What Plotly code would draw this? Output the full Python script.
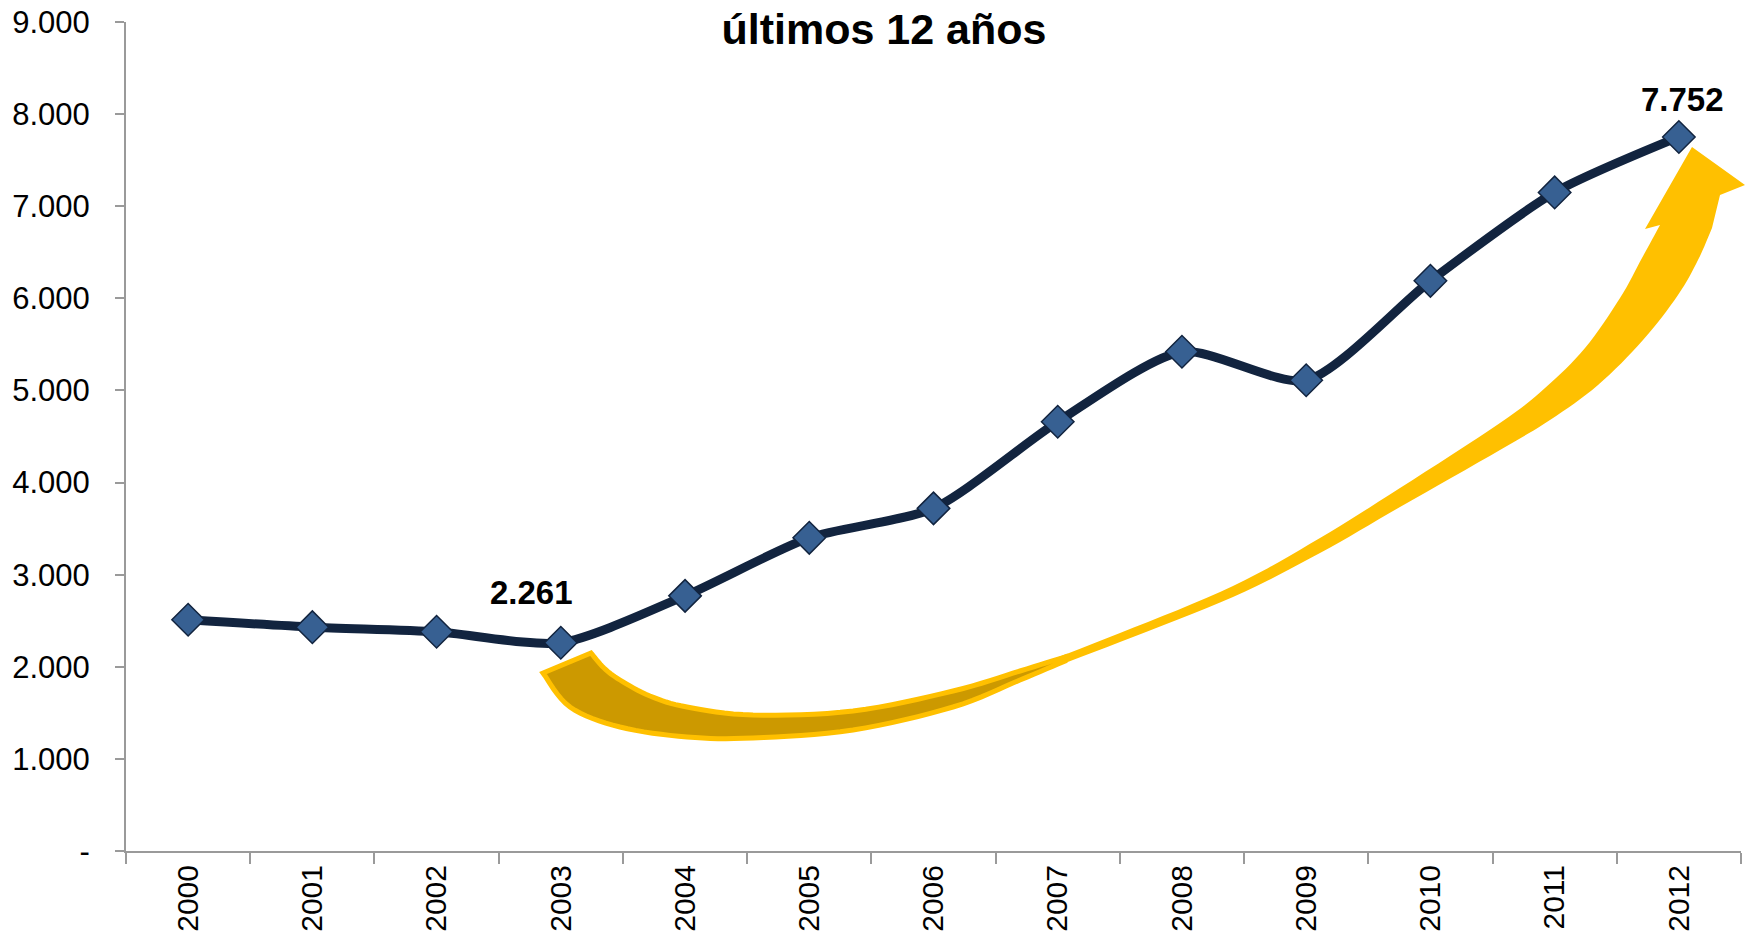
import plotly.graph_objects as go

# data
years = ['2000', '2001', '2002', '2003', '2004', '2005', '2006',
         '2007', '2008', '2009', '2010', '2011', '2012']
values = [2510, 2430, 2380, 2261, 2770, 3400, 3720,
          4660, 5420, 5110, 6190, 7150, 7752]
y_ticks = [0, 1000, 2000, 3000, 4000, 5000, 6000, 7000, 8000, 9000]
labelled_years = ['2003', '2012']

W, H = 1753, 943
L, R, T, B = 126, 12, 22, 92
FONT = 'Liberation Sans, Arial, sans-serif'


def fmt(v):
    # thousands separated with a dot, zero shown as a dash
    return '-' if v == 0 else f'{v:,}'.replace(',', '.')


def to_paper(px, py):
    return (px - L) / (W - L - R), (H - B - py) / (H - T - B)


def smooth(points, n=8):
    # catmull-rom through the outline points so the ribbon edges are round
    out = []
    p = [points[0]] + points + [points[-1]]
    for i in range(1, len(p) - 2):
        p0, p1, p2, p3 = p[i - 1], p[i], p[i + 1], p[i + 2]
        for k in range(n):
            t = k / n
            t2, t3 = t * t, t * t * t
            out.append(tuple(
                0.5 * (2 * p1[j] + (-p0[j] + p2[j]) * t
                       + (2 * p0[j] - 5 * p1[j] + 4 * p2[j] - p3[j]) * t2
                       + (-p0[j] + 3 * p1[j] - 3 * p2[j] + p3[j]) * t3)
                for j in range(2)))
    out.append(points[-1])
    return out


def path(points):
    pts = [to_paper(x, y) for x, y in points]
    return 'M ' + ' L '.join(f'{x:.5f},{y:.5f}' for x, y in pts) + ' Z'


fig = go.Figure()
fig.add_trace(go.Scatter(
    x=years, y=values, mode='lines+markers',
    line=dict(color='#12243F', width=9, shape='spline', smoothing=0.7),
    marker=dict(symbol='diamond', size=25, color='#376092',
                line=dict(color='#12243F', width=1.5)),
    hoverinfo='skip', showlegend=False,
))

# value labels (category index, since the years look numeric)
shifts = {'2003': (-29, 50), '2012': (4, 37)}
for yr in labelled_years:
    i = years.index(yr)
    fig.add_annotation(x=i, y=values[i], text=f'<b>{fmt(values[i])}</b>',
                       showarrow=False,
                       xshift=shifts[yr][0], yshift=shifts[yr][1],
                       font=dict(family=FONT, size=33, color='black'))

# decorative curved arrow (page pixel outline)
upper = [(591, 653), (604, 668), (620, 680), (650, 696), (687, 707), (753, 715),
         (853, 711), (953, 691), (1020, 671), (1120, 633), (1233, 586), (1320, 538),
         (1400, 488), (1500, 423), (1545, 388), (1585, 348), (1620, 298),
         (1642, 258), (1660, 225)]
head = [(1645, 229), (1692, 147), (1745, 185), (1720, 195)]
lower = [(1712, 228), (1698, 260), (1678, 295), (1643, 340), (1598, 385),
         (1550, 420), (1500, 450), (1400, 507), (1320, 553), (1233, 597),
         (1120, 642), (1020, 680), (953, 707), (853, 730), (753, 738),
         (687, 737), (620, 727), (570, 707), (543, 673)]
fig.add_shape(type='path', xref='paper', yref='paper',
              path=path(smooth(upper) + head + smooth(lower)),
              fillcolor='#FFC000', line=dict(width=0))
dark_upper = upper[:9] + [(1065, 657)]
dark_lower = [(1065, 661)] + lower[11:]
fig.add_shape(type='path', xref='paper', yref='paper',
              path=path(smooth(dark_upper) + smooth(dark_lower)),
              fillcolor='#CC9900', line=dict(color='#FFC000', width=5))

fig.update_layout(
    width=W, height=H,
    margin=dict(l=L, r=R, t=T, b=B, autoexpand=False),
    paper_bgcolor='white', plot_bgcolor='white',
    font=dict(family=FONT, color='black'),
    title=dict(text='<b>últimos 12 años</b>', x=884 / W, xanchor='center',
               xref='container', yref='container', y=1 - 29 / H, yanchor='middle',
               font=dict(family=FONT, size=43, color='black')),
)
fig.update_xaxes(
    type='category', range=[-0.5, 12.5], tickangle=-90, tickson='boundaries',
    ticks='outside', ticklen=11, tickwidth=1.5, tickcolor='#9A9A9A',
    showline=True, linecolor='#9A9A9A', linewidth=2, showgrid=False,
    automargin=False,
    tickfont=dict(family=FONT, size=30, color='black'),
)
fig.update_yaxes(
    range=[0, 9000], tickvals=y_ticks, ticktext=[fmt(v) for v in y_ticks],
    ticks='outside', ticklen=9, tickwidth=1.5, tickcolor='#9A9A9A',
    showline=True, linecolor='#9A9A9A', linewidth=2, showgrid=False,
    zeroline=False, ticklabelstandoff=19, automargin=False,
    ticklabeloverflow='allow',
    tickfont=dict(family=FONT, size=31, color='black'),
)

# drop the default 8px page margin so the figure sits at the window corner
fig.write_html('out.html', config={'displayModeBar': False},
               post_script="document.body.style.margin = '0';")
